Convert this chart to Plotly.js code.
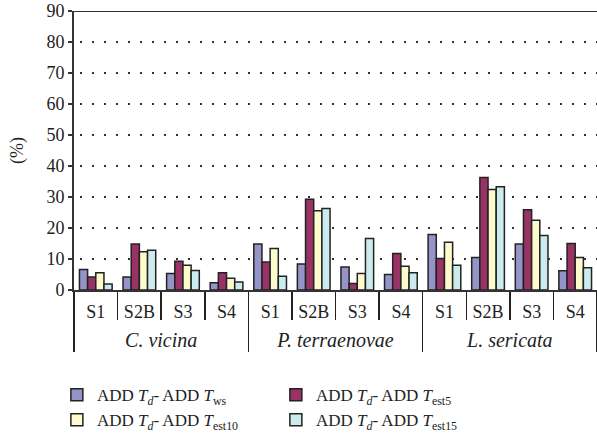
<!DOCTYPE html>
<html><head><meta charset="utf-8">
<script src="https://cdn.plot.ly/plotly-3.0.1.min.js"></script>
<style>html,body{margin:0;padding:0;background:#fff}#chart{width:597px;height:433px}</style>
</head><body><div id="chart"></div>
<script>
const groups = ['C. vicina','C. vicina','C. vicina','C. vicina',
  'P. terraenovae','P. terraenovae','P. terraenovae','P. terraenovae',
  'L. sericata','L. sericata','L. sericata','L. sericata'];
const stations = ['S1','S2B','S3','S4','S1','S2B','S3','S4','S1','S2B','S3','S4'];
const seriesNames = [
  'ADD <i>T<sub>d</sub></i>- ADD <i>T</i><sub>ws</sub>',
  'ADD <i>T<sub>d</sub></i>- ADD <i>T</i><sub>est5</sub>',
  'ADD <i>T<sub>d</sub></i>- ADD <i>T</i><sub>est10</sub>',
  'ADD <i>T<sub>d</sub></i>- ADD <i>T</i><sub>est15</sub>'
];
const tws    = [6.6, 4.2, 5.3, 2.3, 14.8, 8.4, 7.4, 5.0, 17.9, 10.5, 14.8, 6.2];
const test5  = [4.2, 14.8, 9.3, 5.6, 9.0, 29.3, 2.1, 11.8, 10.2, 36.3, 25.9, 15.0];
const test10 = [5.6, 12.3, 8.0, 3.8, 13.4, 25.6, 5.3, 7.7, 15.4, 32.4, 22.5, 10.5];
const test15 = [1.9, 12.8, 6.3, 2.6, 4.4, 26.3, 16.6, 5.6, 8.0, 33.3, 17.6, 7.2];
const yTicks = [0,10,20,30,40,50,60,70,80,90];

const colors = ['#9494C8','#993366','#FDFACC','#CCEBEE'];
const vals = [tws, test5, test10, test15];
const font = 'Liberation Serif, Times New Roman, serif';
const groupLabels = groups.map(g => '<span style="font-size:20px"><i>' + g + '</i></span>');
const pad = '<span style="font-size:28px">\u00A0</span>';
const stationLabels = stations.map(s => pad + s + pad);

const data = vals.map((v,i)=>({
  type:'bar', x:[groupLabels, stationLabels], y:v, name:seriesNames[i],
  marker:{color:colors[i], line:{color:'#222', width:1.5}},
  hoverinfo:'none'
}));

const layout = {
  width:597, height:433,
  margin:{l:74, r:0, t:11, b:143},
  paper_bgcolor:'#fff', plot_bgcolor:'#fff',
  font:{family:font, size:18, color:'#222'},
  barmode:'group', bargap:0.25, bargroupgap:0,
  showlegend:true,
  legend:{orientation:'h', x:0.386, xanchor:'center', yref:'container', y:0.129, yanchor:'top',
    font:{family:font, size:17, color:'#222'}, entrywidth:174, entrywidthmode:'pixels',
    traceorder:'normal', itemclick:false},
  xaxis:{type:'multicategory', showline:true, linecolor:'#333', linewidth:2, automargin:false,
    ticks:'outside', tickson:'boundaries', ticklen:28, tickwidth:1.5, tickcolor:'#222', tickangle:0,
    ticklabelstandoff:4,
    showdividers:true, dividercolor:'#222', dividerwidth:1.5,
    tickfont:{family:font, size:18, color:'#222'}, showgrid:false, zeroline:false},
  yaxis:{range:[0,90], tickvals:yTicks, ticktext:yTicks.map(String), showline:true, linecolor:'#333', linewidth:2, automargin:false,
    ticks:'outside', ticklen:4, tickwidth:1.5, tickcolor:'#333',
    showgrid:true, gridcolor:'#333', gridwidth:1.5, griddash:'0px,6px,1.5px,4.5px',
    zeroline:false, tickfont:{family:font, size:18, color:'#222'},
    title:{text:'(%)', font:{family:font, size:18, color:'#222'}, standoff:18}},
  shapes:[{type:'line', xref:'paper', yref:'y', x0:0, x1:1, y0:90, y1:90, line:{color:'#333', width:2}}]
};
Plotly.newPlot('chart', data, layout, {staticPlot:true, displayModeBar:false});
</script></body></html>
